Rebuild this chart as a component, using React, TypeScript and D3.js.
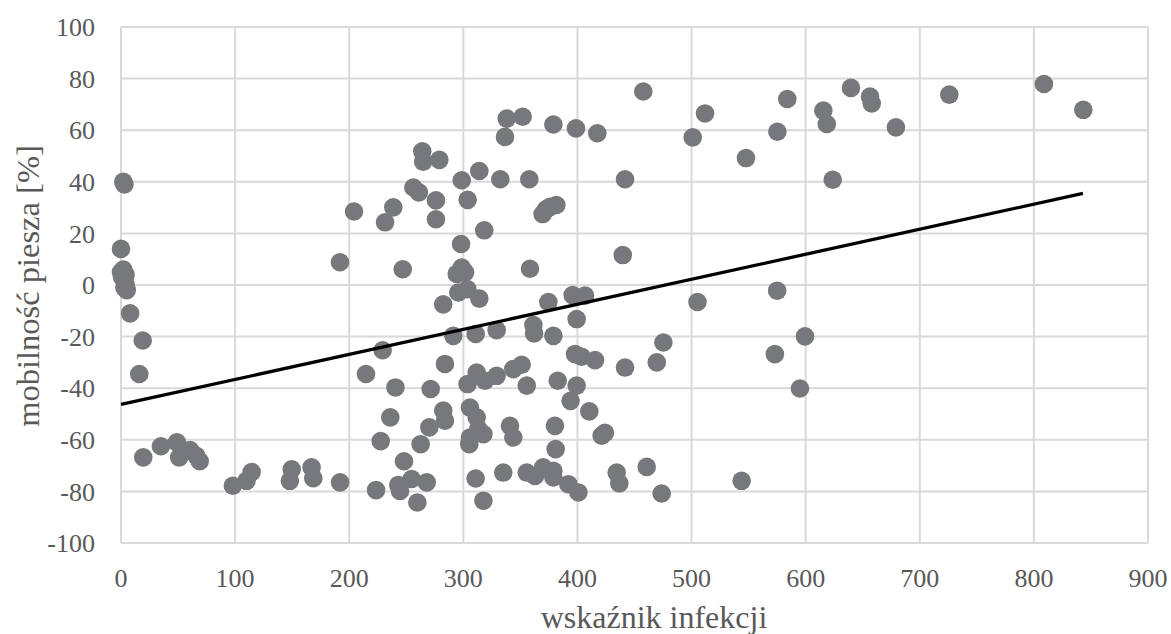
import React from "react";
import * as d3 from "d3";

const infectionIndex: number[] = [
  2, 3, 0, 0, 1, 2, 3, 4, 4, 5, 3, 8, 19, 16, 19.5, 35, 49, 51, 60.5, 66, 69, 98, 110, 114.5, 149.6, 148, 167, 168.5, 192,
  191.9, 204.2, 214.7, 229.3, 223.5, 227.6, 236, 240.5, 248, 243, 244.5, 231.4, 238.6, 246.9, 256.2, 261, 264, 264.8, 279, 276, 276,
  254.7, 259.7, 262.6, 267.9, 270.2, 271.4, 282.4, 283.9, 282.4, 283.9, 291.2, 294.2, 295.6, 298, 298.6, 298.6, 301.5, 303.5, 303.8, 303.7,
  305.8, 305.8, 305.2, 310.8, 310.8, 311.7, 311.7, 313.2, 314, 314, 317.6, 317.6, 318.3, 319, 329.2, 329.2, 332.4, 335, 336.5, 338,
  340.9, 343.8, 343.8, 351.1, 352, 355.6, 355.6, 357.8, 358.4, 361.4, 362, 362.8, 369.5, 372.5, 376, 381.5, 370, 374.5, 378.9, 378.9,
  378.9, 378.9, 380.3, 380.9, 382.7, 392, 394, 395.8, 397.9, 398.7, 399.3, 399.3, 400.8, 403.7, 406.6, 410.4, 415.4, 417.4, 421.2, 424.1,
  434.4, 436.7, 439.7, 441.7, 441.7, 457.7, 460.7, 469.5, 473.8, 475.3, 501, 505.2, 511.8, 543.9, 547.7, 573, 575.2, 575, 583.9, 595,
  599.4, 615.5, 618.5, 623.7, 639.7, 656.4, 657.9, 679.1, 725.9, 808.8, 843.3,
];

const pedestrianMobility: number[] = [
  40, 39, 14, 5, 3, 6, 2, 4, 0, -2, -1, -11, -21.5, -34.5, -66.8, -62.5, -61, -66.8, -64, -66.2, -68.3, -77.8, -75.9, -72.5, -71.4, -75.9, -70.7, -74.9, -76.5,
  8.8, 28.5, -34.5, -25.3, -79.5, -60.5, -51.3, -39.7, -68.3, -77.5, -79.8, 24.3, 30.1, 6.1, 37.8, 35.9, 51.8, 47.8, 48.5, 32.8, 25.5,
  -75.2, -84.3, -61.7, -76.5, -55.2, -40.3, -7.5, -30.6, -48.7, -52.6, -19.7, 4.3, -2.9, 15.9, 40.6, 6.8, 4.9, -1.6, 33, -38.4,
  -47.5, -59.1, -61.7, -19, -75, -33.9, -51.3, -55.8, -5.3, 44.2, -57.8, -83.6, 21.2, -37.1, -17.5, -35.2, 41, -72.7, 57.4, 64.5,
  -54.6, -59.1, -32.6, -30.9, 65.2, -39, -72.7, 41, 6.3, -15.5, -18.8, -74, 27.5, 29.3, 30.3, 31, -70.7, -6.6, 62.2, -19.7,
  -72, -74.6, -54.6, -63.6, -37.1, -77.2, -44.9, -3.9, -26.8, 60.7, -13.2, -39, -80.4, -27.8, -4.1, -49, -29.1, 58.8, -58.4, -57.3,
  -72.7, -76.9, 11.6, 41, -32, 75, -70.5, -30, -80.8, -22.3, 57.2, -6.6, 66.5, -75.9, 49.2, -26.8, 59.4, -2.2, 72.1, -40.1,
  -19.9, 67.6, 62.4, 40.8, 76.4, 73, 70.4, 61.1, 73.8, 77.9, 67.9,
];

const trendX: number[] = [0, 843];
const trendY: number[] = [-46.3, 35.5];

const xTicks: number[] = [0, 100, 200, 300, 400, 500, 600, 700, 800, 900];
const yTicks: number[] = [-100, -80, -60, -40, -20, 0, 20, 40, 60, 80, 100];

const xTitle = "wskaźnik infekcji";
const yTitle = "mobilność piesza [%]";

export default function App() {
  const W = 1171;
  const H = 634;
  const left = 121;
  const right = 1148;
  const top = 27;
  const bottom = 543;

  const x = d3.scaleLinear().domain([0, 900]).range([left, right]);
  const y = d3.scaleLinear().domain([-100, 100]).range([bottom, top]);

  const points = infectionIndex.map((v, i) => ({ x: v, y: pedestrianMobility[i] }));
  const trend = trendX.map((v, i) => ({ x: v, y: trendY[i] }));
  const line = d3
    .line<{ x: number; y: number }>()
    .x((d) => x(d.x))
    .y((d) => y(d.y));

  const font = "'Liberation Serif', 'Times New Roman', serif";
  const textColor = "#595959";
  const grid = "#d9d9d9";

  return (
    <svg
      width={W}
      height={H}
      style={{ position: "absolute", left: 0, top: 0, background: "#fff" }}
      fontFamily={font}
    >
      <rect x={0} y={0} width={W} height={H} fill="#fff" />
      {xTicks.map((t) => (
        <line key={"gx" + t} x1={x(t)} x2={x(t)} y1={top} y2={bottom} stroke={grid} strokeWidth={2} />
      ))}
      {yTicks.map((t) => (
        <line key={"gy" + t} x1={left} x2={right} y1={y(t)} y2={y(t)} stroke={grid} strokeWidth={2} />
      ))}
      {points.map((p, i) => (
        <circle key={"p" + i} cx={x(p.x)} cy={y(p.y)} r={9.3} fill="#77787c" />
      ))}
      <path d={line(trend) || ""} fill="none" stroke="#000" strokeWidth={3.3} />
      {yTicks.map((t) => (
        <text
          key={"ty" + t}
          x={95}
          y={y(t)}
          dy="0.35em"
          textAnchor="end"
          fontSize={26}
          fill={textColor}
        >
          {t}
        </text>
      ))}
      {xTicks.map((t) => (
        <text key={"tx" + t} x={x(t)} y={587} textAnchor="middle" fontSize={26} fill={textColor}>
          {t}
        </text>
      ))}
      <text x={654} y={628} textAnchor="middle" fontSize={32} fill={textColor}>
        {xTitle}
      </text>
      <text
        transform={`translate(39, 286) rotate(-90)`}
        textAnchor="middle"
        fontSize={32.5}
        fill={textColor}
      >
        {yTitle}
      </text>
    </svg>
  );
}
